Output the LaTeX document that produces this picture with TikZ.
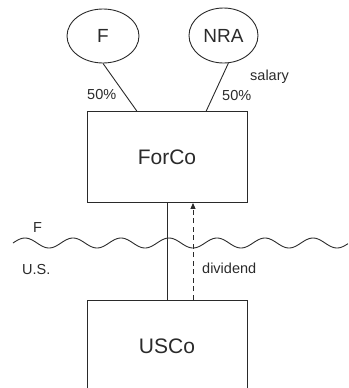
\documentclass[tikz,border=0pt]{standalone}
\usepackage{fontspec}
\setmainfont{Liberation Sans}
\usetikzlibrary{shapes.geometric,calc,arrows.meta}
\definecolor{ink}{HTML}{2A2A2A}
\tikzset{
  owner/.style={draw=ink, line width=0.9pt, ellipse, inner sep=0pt,
    text=ink, font=\fontsize{19}{22}\selectfont},
  entity/.style={draw=ink, line width=0.9pt, rectangle, inner sep=0pt,
    minimum width=160pt, text=ink, font=\fontsize{21}{25}\selectfont},
  note/.style={anchor=base west, inner sep=0pt, text=ink,
    font=\fontsize{14.5}{17}\selectfont},
  link/.style={draw=ink, line width=0.9pt},
  flow/.style={draw=ink, line width=0.9pt, dash pattern=on 5pt off 3.5pt,
    -{Triangle[length=6pt,width=5pt]}}
}
\begin{document}
\begin{tikzpicture}[x=1pt,y=-1pt]
\useasboundingbox (0,0) rectangle (348,388);

% shareholders
\node[owner, minimum width=72pt, minimum height=54pt] (f) at (103,36) {F};
\node[owner, minimum width=69pt, minimum height=55pt] (nra) at (223.5,35.5) {NRA};

% companies
\node[entity, minimum height=91pt] (forco) at (167,157) {ForCo};
\node[entity, minimum height=92pt] (usco) at (167,346) {USCo};

% ownership lines
\draw[link] (f.south) -- ($(forco.north west)!0.3125!(forco.north east)$);
\draw[link] (nra.-80) -- ($(forco.north west)!0.74375!(forco.north east)$);

% border between F and U.S. (period 48, so 7.5 degrees per unit)
\draw[ink, line width=0.9pt, smooth, samples=220, domain=13:348]
  plot (\x, {243 - 5*sin(7.5*(\x-13))});

% ownership and dividend flow
\draw[link] (forco.south) -- (usco.north);
\draw[flow] ($(usco.north)+(26,0)$) -- ($(forco.south)+(26,0)$);

% labels
\node[note] (pf) at (87,99) {50\%};
\node[note] (sal) at (250,80) {salary};
\node[note] (pn) at (222,100) {50\%};
\node[note] (lf) at (33,232) {F};
\node[note] (lus) at (22,274) {U.S.};
\node[note] (div) at (202,273) {dividend};
\end{tikzpicture}
\end{document}
